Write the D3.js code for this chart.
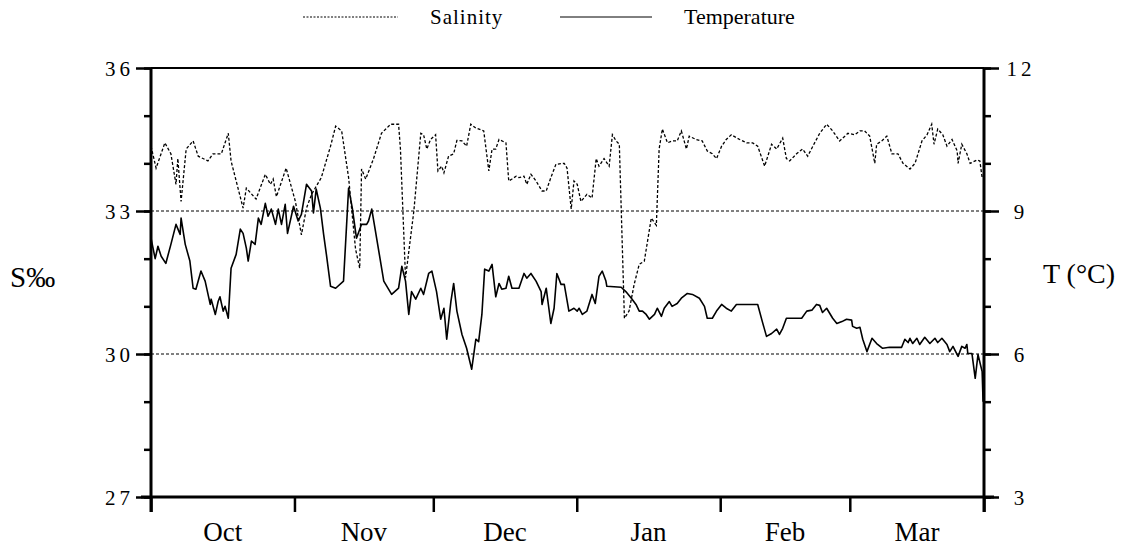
<!DOCTYPE html>
<html>
<head>
<meta charset="utf-8">
<script src="https://cdn.jsdelivr.net/npm/d3@7"></script>
<style>
  body { margin: 0; background: #fff; }
  text { font-family: "Liberation Serif", "Times New Roman", serif; fill: #000; }
</style>
</head>
<body>
<script>
// month names under the x axis
var monthLabels = ["Oct", "Nov", "Dec", "Jan", "Feb", "Mar"];
var salTicks = [27, 30, 33, 36];
var tempTicks = [3, 6, 9, 12];
var gridValues = [30, 33];

// days since 1 Oct
var salDays = [0.0, 1.1, 3.0, 4.3, 5.4, 5.8, 6.5, 7.6, 9.1, 10.2, 12.3, 13.4, 15.2, 16.7, 17.3, 18.8, 19.9, 20.6, 22.7, 24.7,
    25.8, 26.4, 27.1, 29.2, 31.2, 32.5, 33.6, 34.7, 36.8, 38.8, 39.9, 41.2, 42.7, 44.2, 45.1, 45.5, 46.4, 48.1, 49.8, 51.8,
    53.5, 53.9, 55.0, 56.8, 58.3, 58.9, 59.6, 60.4, 61.5, 62.0, 62.8, 63.3, 64.3, 65.4, 66.1, 67.2, 68.2, 69.1, 70.2, 71.9,
    73.0, 73.7, 74.5, 75.2, 76.7, 77.3, 78.0, 78.9, 79.5, 80.6, 81.2, 82.1, 83.2, 84.5, 85.4, 86.4, 87.5, 89.3, 89.9, 90.8,
    91.4, 92.1, 92.9, 94.2, 95.3, 96.2, 96.8, 97.9, 99.0, 99.7, 100.5, 101.2, 102.3, 103.3, 104.4, 105.5, 106.6, 108.1, 109.2, 109.8,
    110.5, 111.6, 112.6, 113.7, 114.6, 115.7, 116.3, 117.8, 119.1, 120.2, 121.3, 122.2, 123.3, 124.3, 125.4, 127.2, 128.7, 130.0, 131.1, 132.6,
    134.1, 135.2, 136.5, 137.3, 138.0, 139.5, 140.8, 141.9, 143.4, 144.5, 146.0, 147.3, 148.8, 150.6, 152.1, 153.2, 154.2, 155.3, 156.4, 156.8,
    157.9, 159.0, 160.1, 161.4, 162.5, 164.0, 165.1, 166.6, 167.7, 168.7, 169.2, 170.0, 171.1, 172.0, 173.1, 174.2, 174.4, 175.2, 176.3, 177.0,
    178.5, 179.1, 179.6];
var salValues = [34.36, 33.9, 34.43, 34.2, 33.56, 34.1, 33.2, 34.3, 34.47, 34.15, 34.05, 34.2, 34.2, 34.63, 34.05, 33.48, 33.06, 33.48, 33.25, 33.77,
    33.56, 33.67, 33.3, 33.9, 33.2, 32.5, 33.06, 33.35, 33.7, 34.36, 34.78, 34.68, 33.7, 32.2, 31.8, 33.88, 33.67, 34.1, 34.63, 34.82,
    34.82, 34.3, 31.6, 33.0, 34.63, 34.6, 34.3, 34.5, 34.6, 33.84, 33.94, 33.8, 34.15, 34.2, 34.48, 34.47, 34.36, 34.82, 34.74, 34.68,
    33.84, 34.3, 34.3, 34.5, 34.43, 33.63, 33.67, 33.73, 33.7, 33.73, 33.56, 33.77, 33.63, 33.42, 33.42, 33.7, 33.98, 34.0, 33.9, 33.04,
    33.63, 33.56, 33.2, 33.35, 33.27, 34.1, 33.94, 34.1, 33.94, 34.6, 34.47, 34.4, 30.75, 30.9, 31.46, 31.88, 31.95, 32.85, 32.7, 34.3,
    34.72, 34.43, 34.47, 34.47, 34.68, 34.3, 34.57, 34.5, 34.47, 34.26, 34.2, 34.1, 34.36, 34.5, 34.6, 34.5, 34.43, 34.43, 34.36, 33.94,
    34.4, 34.3, 34.53, 34.1, 34.05, 34.2, 34.3, 34.15, 34.43, 34.63, 34.82, 34.68, 34.47, 34.63, 34.6, 34.68, 34.68, 34.57, 34.0, 34.4,
    34.47, 34.57, 34.2, 34.2, 34.0, 33.88, 34.0, 34.47, 34.6, 34.82, 34.4, 34.72, 34.6, 34.36, 34.5, 34.26, 34.0, 34.4, 34.2, 34.0,
    34.07, 34.05, 33.7];

var tempDays = [0.0, 0.9, 1.5, 2.2, 3.2, 4.3, 5.4, 6.3, 6.5, 7.4, 8.4, 9.1, 9.7, 10.8, 11.7, 12.8, 13.0, 13.9, 14.5, 14.9,
    15.6, 16.0, 16.7, 17.3, 18.4, 19.3, 19.9, 20.6, 21.0, 21.7, 22.5, 23.2, 23.8, 24.7, 25.3, 26.0, 26.9, 27.5, 28.2, 29.0,
    29.5, 30.8, 31.8, 32.5, 33.6, 34.7, 35.1, 35.7, 36.6, 37.3, 37.9, 38.8, 39.9, 41.6, 42.7, 43.5, 44.4, 45.5, 46.6, 47.0,
    47.7, 48.5, 50.3, 52.0, 53.5, 54.2, 55.0, 55.7, 56.3, 57.2, 58.3, 58.9, 60.0, 60.7, 61.7, 62.6, 63.3, 63.9, 64.8, 65.4,
    66.1, 67.2, 68.2, 69.3, 70.2, 70.8, 71.5, 72.1, 73.0, 73.7, 74.5, 75.2, 75.8, 76.7, 77.3, 78.0, 79.5, 80.6, 81.2, 82.1,
    83.2, 84.3, 84.5, 85.4, 86.4, 87.1, 87.7, 88.6, 89.3, 90.3, 91.4, 92.1, 92.5, 93.2, 94.2, 95.3, 96.0, 96.8, 97.5, 98.3,
    98.5, 101.6, 102.6, 103.8, 104.8, 105.5, 106.2, 107.0, 107.7, 108.8, 109.4, 110.3, 110.9, 112.0, 112.6, 113.7, 114.6, 115.9, 117.0, 118.5,
    119.6, 120.2, 121.3, 122.2, 123.3, 124.3, 125.4, 126.5, 127.8, 131.1, 132.1, 133.0, 134.1, 135.2, 135.8, 136.5, 137.3, 138.6, 140.6, 141.7,
    142.8, 143.8, 144.5, 145.1, 146.0, 147.3, 148.2, 149.3, 150.3, 151.4, 151.6, 152.5, 153.2, 153.8, 154.7, 155.8, 156.8, 158.1, 159.6, 162.2,
    162.9, 163.6, 164.0, 164.6, 165.5, 166.1, 167.2, 168.3, 169.4, 170.0, 170.9, 172.0, 172.6, 173.3, 174.4, 175.2, 175.9, 176.3, 176.5, 177.4,
    178.1, 178.7, 179.6, 179.8];
var tempValues = [8.43, 8.0, 8.26, 8.05, 7.9, 8.3, 8.72, 8.51, 8.85, 8.3, 7.95, 7.38, 7.36, 7.74, 7.53, 7.04, 7.15, 6.83, 7.1, 7.2,
    6.9, 7.0, 6.75, 7.8, 8.09, 8.62, 8.53, 8.22, 7.95, 8.37, 8.3, 8.85, 8.72, 9.16, 8.89, 9.04, 8.72, 9.04, 8.72, 9.14,
    8.53, 9.1, 8.79, 8.93, 9.56, 9.42, 8.96, 9.46, 9.06, 8.51, 8.09, 7.42, 7.38, 7.53, 9.48, 9.06, 8.43, 8.72, 8.72, 8.79,
    9.04, 8.58, 7.53, 7.25, 7.38, 7.84, 7.53, 6.83, 7.31, 7.15, 7.38, 7.25, 7.69, 7.74, 7.31, 6.73, 6.96, 6.31, 7.1, 7.48,
    6.9, 6.41, 6.12, 5.68, 6.31, 6.26, 6.83, 7.78, 7.74, 7.88, 7.2, 7.48, 7.36, 7.38, 7.63, 7.38, 7.38, 7.69, 7.59, 7.69,
    7.53, 7.31, 7.04, 7.38, 6.64, 6.96, 7.69, 7.46, 7.46, 6.9, 6.96, 6.9, 6.96, 6.83, 6.9, 7.25, 7.06, 7.63, 7.74, 7.53,
    7.42, 7.4, 7.31, 7.17, 7.04, 6.9, 6.9, 6.83, 6.73, 6.83, 6.96, 6.79, 6.96, 7.1, 7.0, 7.06, 7.17, 7.27, 7.25, 7.17,
    7.0, 6.75, 6.75, 6.9, 7.04, 6.96, 6.9, 7.04, 7.04, 7.04, 6.68, 6.37, 6.43, 6.52, 6.41, 6.54, 6.75, 6.75, 6.75, 6.9,
    6.92, 7.04, 7.02, 6.87, 6.96, 6.75, 6.64, 6.68, 6.73, 6.71, 6.58, 6.54, 6.56, 6.31, 6.05, 6.33, 6.22, 6.12, 6.14, 6.14,
    6.31, 6.24, 6.33, 6.22, 6.33, 6.2, 6.35, 6.22, 6.33, 6.24, 6.33, 6.2, 6.05, 6.16, 5.95, 6.16, 6.12, 6.2, 6.01, 6.01,
    5.49, 5.99, 5.63, 5.0];

var width = 1124, height = 549;
var margin = { top: 68, right: 140, bottom: 52, left: 151 };
var x0 = margin.left, x1 = width - margin.right;
var y0 = margin.top, y1 = height - margin.bottom;

var start = Date.UTC(1998, 9, 1);
var dayMs = 864e5;
function toDate(d) { return new Date(start + d * dayMs); }
var end = toDate(180);

var x = d3.scaleUtc().domain([toDate(0), end]).range([x0, x1]);
var ySal = d3.scaleLinear().domain([27, 36]).range([y1, y0]);
var yTemp = d3.scaleLinear().domain([3, 12]).range([y1, y0]);

var svg = d3.select("body").append("svg")
    .attr("width", width)
    .attr("height", height);

// dashed reference lines at 30 and 33
svg.append("g")
    .selectAll("line")
    .data(gridValues)
    .enter()
    .append("line")
    .attr("x1", x0).attr("x2", x1)
    .attr("y1", (d) => ySal(d)).attr("y2", (d) => ySal(d))
    .style("stroke", "#000")
    .style("stroke-width", "1px")
    .style("stroke-dasharray", "3,2");

// top border
svg.append("line")
    .attr("x1", x0).attr("x2", x1)
    .attr("y1", y0).attr("y2", y0)
    .style("stroke", "#000")
    .style("stroke-width", "2px");

// series
var salData = salDays.map((d, i) => ({ date: toDate(d), v: salValues[i] }));
var tempData = tempDays.map((d, i) => ({ date: toDate(d), v: tempValues[i] }));

svg.append("path")
    .datum(salData)
    .attr("fill", "none")
    .style("stroke", "#000")
    .style("stroke-width", "1.3px")
    .style("stroke-dasharray", "3,2")
    .attr("d", d3.line().x((d) => x(d.date)).y((d) => ySal(d.v)));

svg.append("path")
    .datum(tempData)
    .attr("fill", "none")
    .style("stroke", "#000")
    .style("stroke-width", "1.6px")
    .style("stroke-linejoin", "round")
    .attr("d", d3.line().x((d) => x(d.date)).y((d) => yTemp(d.v)));

function styleAxis(g) {
    g.select(".domain").remove();
    g.selectAll(".tick line").style("stroke", "#000").style("stroke-width", "2.5px");
    g.selectAll("text").style("font-family", "'Liberation Serif', serif").style("fill", "#000");
}

// left axis: minor then major ticks
svg.append("g")
    .attr("transform", "translate(" + x0 + ",0)")
    .call(d3.axisLeft(ySal).tickValues(d3.range(27, 37)).tickSize(7).tickFormat(""))
    .call(styleAxis);
svg.append("g")
    .attr("transform", "translate(" + x0 + ",0)")
    .call(d3.axisLeft(ySal).tickValues(salTicks).tickSize(15).tickPadding(2))
    .call(styleAxis)
    .selectAll("text")
    .style("font-size", "21px")
    .style("letter-spacing", "4px")
    .attr("dy", "0.36em");

// right axis
svg.append("g")
    .attr("transform", "translate(" + x1 + ",0)")
    .call(d3.axisRight(yTemp).tickValues(d3.range(3, 13)).tickSize(7).tickFormat(""))
    .call(styleAxis);
svg.append("g")
    .attr("transform", "translate(" + x1 + ",0)")
    .call(d3.axisRight(yTemp).tickValues(tempTicks).tickSize(15).tickPadding(6))
    .call(styleAxis)
    .selectAll("text")
    .style("font-size", "21px")
    .style("letter-spacing", "4px")
    .attr("text-anchor", "middle")
    .attr("x", 37)
    .attr("dy", "0.36em");

// bottom axis: month boundaries
var monthStarts = d3.utcMonth.range(toDate(0), end);
svg.append("g")
    .attr("transform", "translate(0," + y1 + ")")
    .call(d3.axisBottom(x).tickValues(monthStarts.concat([end])).tickSize(15).tickFormat(""))
    .call(styleAxis);

// month labels centred in each month
svg.append("g")
    .selectAll("text")
    .data(monthLabels)
    .enter()
    .append("text")
    .attr("x", (d, i) => {
        var a = monthStarts[i];
        var b = i + 1 < monthStarts.length ? monthStarts[i + 1] : end;
        return (x(a) + x(b)) / 2;
    })
    .attr("y", 541)
    .attr("text-anchor", "middle")
    .style("font-size", "27px")
    .text((d) => d);

// axis lines
svg.append("line")
    .attr("x1", x0).attr("x2", x0).attr("y1", y0).attr("y2", y1 + 15)
    .style("stroke", "#000").style("stroke-width", "3px");
svg.append("line")
    .attr("x1", x1).attr("x2", x1).attr("y1", y0).attr("y2", y1 + 15)
    .style("stroke", "#000").style("stroke-width", "3px");
svg.append("line")
    .attr("x1", x0 - 10).attr("x2", x1 + 10).attr("y1", y1).attr("y2", y1)
    .style("stroke", "#000").style("stroke-width", "3px");

// axis titles
svg.append("text")
    .attr("x", 10).attr("y", 287)
    .style("font-size", "29px")
    .text("S‰");
svg.append("text")
    .attr("x", 1043).attr("y", 283)
    .style("font-size", "28px")
    .text("T (°C)");

// legend
var legend = svg.append("g");
legend.append("line")
    .attr("x1", 303).attr("x2", 398).attr("y1", 17).attr("y2", 17)
    .style("stroke", "#000").style("stroke-width", "1px").style("stroke-dasharray", "2,1.5");
legend.append("text")
    .attr("x", 430).attr("y", 24)
    .style("font-size", "21px")
    .style("letter-spacing", "1px")
    .text("Salinity");
legend.append("line")
    .attr("x1", 560).attr("x2", 652).attr("y1", 17).attr("y2", 17)
    .style("stroke", "#000").style("stroke-width", "1px");
legend.append("text")
    .attr("x", 684).attr("y", 24)
    .style("font-size", "22px")
    .text("Temperature");
</script>
</body>
</html>
